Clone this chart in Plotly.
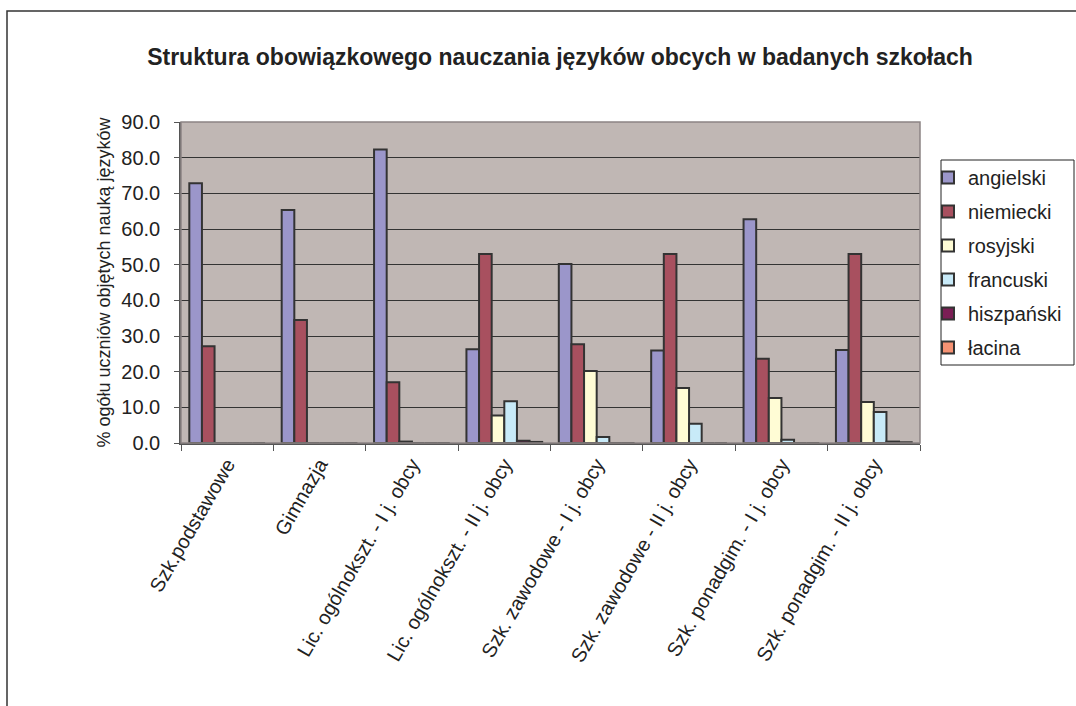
import plotly.graph_objects as go

categories = [
    "Szk.podstawowe",
    "Gimnazja",
    "Lic. ogólnokszt. - I j. obcy",
    "Lic. ogólnokszt. - II j. obcy",
    "Szk. zawodowe - I j. obcy",
    "Szk. zawodowe - II j. obcy",
    "Szk. ponadgim. - I j. obcy",
    "Szk. ponadgim. - II j. obcy",
]
angielski = [72.8, 65.3, 82.3, 26.3, 50.2, 25.9, 62.7, 26.1]
niemiecki = [27.1, 34.5, 17.0, 53.0, 27.7, 53.0, 23.6, 53.0]
rosyjski = [0.0, 0.0, 0.4, 7.7, 20.2, 15.4, 12.6, 11.5]
francuski = [0.0, 0.0, 0.0, 11.7, 1.7, 5.4, 0.9, 8.7]
hiszpanski = [0.0, 0.0, 0.0, 0.6, 0.0, 0.0, 0.0, 0.4]
lacina = [0.0, 0.0, 0.0, 0.3, 0.0, 0.0, 0.0, 0.2]

series = [
    ("angielski", angielski, "#9B96CA"),
    ("niemiecki", niemiecki, "#A8505F"),
    ("rosyjski", rosyjski, "#FFFCD5"),
    ("francuski", francuski, "#C8EAF8"),
    ("hiszpański", hiszpanski, "#7B1E55"),
    ("łacina", lacina, "#F69273"),
]

W, H = 1076, 706
L, R, T, B = 181, 156, 122, 263
pw, ph = W - L - R, H - T - B

FONT = "Liberation Sans, Arial, sans-serif"
TXT = "#222222"

fig = go.Figure()
for i, (name, vals, col) in enumerate(series):
    fig.add_trace(go.Bar(
        x=categories, y=vals, name=name, legendgroup=str(i),
        marker=dict(color=col, line=dict(color="#333333", width=2)),
    ))

def px_x(p):
    return (p - L) / pw

def px_y(p):
    return (H - B - p) / ph

fig.update_layout(
    width=W, height=H,
    margin=dict(l=L, r=R, t=T, b=B, autoexpand=False),
    paper_bgcolor="white",
    plot_bgcolor="#C0B7B4",
    barmode="group",
    bargap=0.18,
    bargroupgap=0.0,
    font=dict(family=FONT, size=20, color=TXT),
    title=dict(
        text="<b>Struktura obowiązkowego nauczania języków obcych w badanych szkołach</b>",
        x=560 / W, xref="container", xanchor="center",
        y=1 - 57 / H, yref="container", yanchor="middle",
        font=dict(family=FONT, size=23, color=TXT),
    ),
    legend=dict(
        x=px_x(928), y=px_y(158), xanchor="left", yanchor="top",
        bgcolor="rgba(0,0,0,0)", borderwidth=0,
        font=dict(family=FONT, size=20, color=TXT),
        tracegroupgap=5,
        itemwidth=30,
    ),
    xaxis=dict(
        type="category",
        automargin=False,
        tickson="boundaries",
        ticks="outside", ticklen=6, tickcolor="#555555",
        showline=True, linecolor="#555555", linewidth=1.5,
        tickangle=-60,
        tickfont=dict(family=FONT, size=20, color=TXT),
        showgrid=False,
    ),
    yaxis=dict(
        automargin=False,
        range=[0, 90], dtick=10, tickformat=".1f",
        ticks="outside", ticklen=5, tickcolor="#555555",
        showline=True, linecolor="#555555", linewidth=1.5,
        showgrid=True, gridcolor="#333333", gridwidth=1,
        tickfont=dict(family=FONT, size=20, color=TXT),
        ticklabelstandoff=10,
        title=dict(text="% ogółu uczniów objętych nauką języków",
                   font=dict(family=FONT, size=18, color=TXT),
                   standoff=6),
        zeroline=False,
    ),
)

# plot frame (top/right grey border)
fig.add_shape(type="rect", xref="paper", yref="paper", x0=0, x1=1, y0=0, y1=1,
              line=dict(color="#8C8484", width=1.5), fillcolor="rgba(0,0,0,0)", layer="above")
# legend box
fig.add_shape(type="rect", xref="paper", yref="paper",
              x0=px_x(941), x1=px_x(1074), y0=px_y(365), y1=px_y(160),
              line=dict(color=TXT, width=1), fillcolor="white", layer="below")
# outer chart border
fig.add_shape(type="rect", xref="paper", yref="paper",
              x0=px_x(7), x1=px_x(W + 20), y0=px_y(H + 20), y1=px_y(11),
              line=dict(color="#333333", width=1.5), fillcolor="rgba(0,0,0,0)", layer="below")

fig.write_html("out.html", config={"displayModeBar": False},
               post_script="document.body.style.margin='0';document.body.style.overflow='hidden';")
